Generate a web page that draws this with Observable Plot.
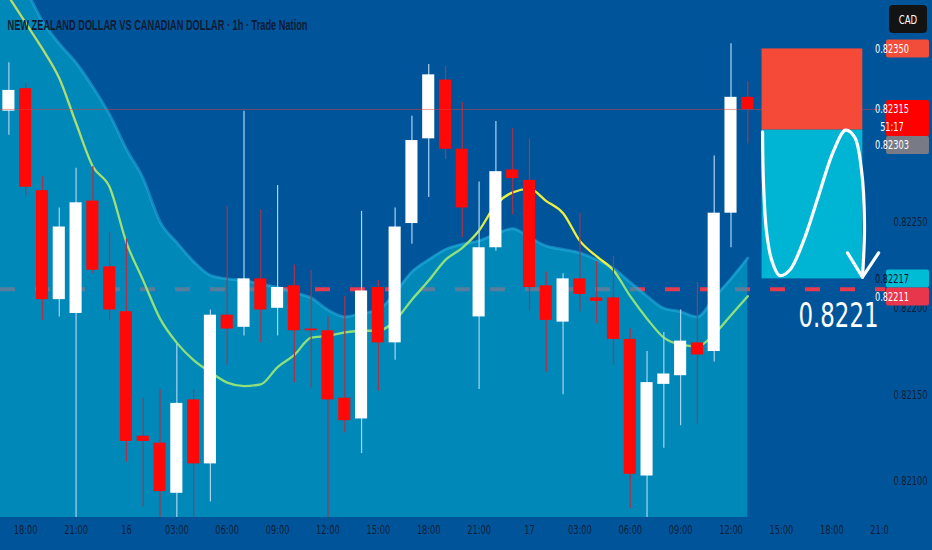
<!DOCTYPE html>
<html><head><meta charset="utf-8">
<script src="https://cdn.jsdelivr.net/npm/d3@7"></script>
<script src="https://cdn.jsdelivr.net/npm/@observablehq/plot@0.6"></script>
<style>html,body{margin:0;padding:0;background:#00559a;overflow:hidden}#chart svg{display:block}</style>
</head><body><div id="chart"></div>
<script>
// ---------- data ----------
const title = "NEW ZEALAND DOLLAR VS CANADIAN DOLLAR · 1h · Trade Nation";
const currency = "CAD";
const opens  = [0.82314,0.82327,0.82268,0.82205,0.82197,0.82262,0.82224,0.82198,0.82126,0.82122,0.82093,0.82147,0.82110,0.82196,0.82189,0.82217,0.82200,0.82213,0.82188,0.82187,0.82148,0.82136,0.82212,0.82180,0.82249,0.82298,0.82332,0.82292,0.82195,0.82235,0.82280,0.82274,0.82213,0.82192,0.82217,0.82206,0.82206,0.82182,0.82103,0.82156,0.82161,0.82180,0.82175,0.82255,0.82322];
const highs  = [0.82342,0.82330,0.82276,0.82258,0.82281,0.82282,0.82244,0.82240,0.82148,0.82153,0.82179,0.82153,0.82199,0.82259,0.82314,0.82257,0.82271,0.82225,0.82222,0.82195,0.82207,0.82256,0.82216,0.82258,0.82311,0.82341,0.82340,0.82319,0.82273,0.82308,0.82304,0.82298,0.82221,0.82220,0.82255,0.82227,0.82230,0.82188,0.82175,0.82186,0.82199,0.82215,0.82288,0.82353,0.82331];
const lows   = [0.82300,0.82265,0.82193,0.82195,0.82070,0.82220,0.82193,0.82111,0.82085,0.82075,0.82070,0.82072,0.82088,0.82167,0.82184,0.82180,0.82184,0.82157,0.82154,0.82070,0.82128,0.82116,0.82152,0.82170,0.82237,0.82264,0.82286,0.82241,0.82153,0.82233,0.82254,0.82198,0.82163,0.82150,0.82198,0.82191,0.82167,0.82084,0.82072,0.82119,0.82132,0.82133,0.82169,0.82235,0.82295];
const closes = [0.82326,0.82270,0.82205,0.82247,0.82261,0.82222,0.82199,0.82123,0.82123,0.82094,0.82145,0.82110,0.82196,0.82188,0.82217,0.82199,0.82212,0.82187,0.82187,0.82147,0.82135,0.82210,0.82180,0.82247,0.82297,0.82335,0.82292,0.82258,0.82235,0.82279,0.82275,0.82212,0.82193,0.82217,0.82208,0.82204,0.82182,0.82104,0.82157,0.82162,0.82181,0.82173,0.82255,0.82322,0.82315];
// upper edge of the shaded band
const band   = [0.82398,0.82384,0.82366,0.82353,0.82342,0.82328,0.82312,0.82292,0.82275,0.82250,0.82238,0.82227,0.82219,0.82217,0.82216,0.82214,0.82212,0.82209,0.82206,0.82199,0.82195,0.82197,0.82199,0.82209,0.82221,0.82228,0.82234,0.82237,0.82239,0.82243,0.82246,0.82241,0.82236,0.82234,0.82232,0.82228,0.82223,0.82215,0.82207,0.82200,0.82198,0.82195,0.82206,0.82217,0.82229];
// moving average
const ma     = [0.82380,0.82365,0.82350,0.82333,0.82307,0.82282,0.82270,0.82238,0.82216,0.82194,0.82180,0.82170,0.82163,0.82157,0.82155,0.82156,0.82166,0.82173,0.82183,0.82184,0.82186,0.82187,0.82187,0.82193,0.82205,0.82216,0.82228,0.82235,0.82245,0.82260,0.82267,0.82269,0.82262,0.82255,0.82239,0.82230,0.82222,0.82207,0.82194,0.82183,0.82179,0.82178,0.82185,0.82196,0.82207];
const tickIdx    = [1,4,7,10,13,16,19,22,25,28,31,34,37,40,43,46,49,52];
const tickLabels = ["18:00","21:00","16","03:00","06:00","09:00","12:00","15:00","18:00","21:00","17","03:00","06:00","09:00","12:00","15:00","18:00","21:00"];
const priceTicks = [0.82100,0.82150,0.82200,0.82250];
const lastPrice = 0.82315, countdown = "51:17";
const stopPrice = 0.82350, entryPrice = 0.82303, targetPrice = 0.82217, linePrice = 0.82211;
const toolStart = 44.85, toolEnd = 50.85, labelAt = 49.4;
const arrowX = [44.88,44.94,45.12,45.42,45.89,46.49,47.32,48.21,49.11,49.82,50.36,50.77,50.95,50.83];
const arrowY = [0.82302,0.82271,0.82244,0.82228,0.82219,0.82222,0.82239,0.82265,0.82291,0.82303,0.82299,0.82280,0.82248,0.82218];
const headX = [49.94,50.83,51.79];
const headY = [0.82232,0.82218,0.82232];

// ---------- layout ----------
const xDomain = [-0.5, 52.2];
const yDomain = [0.82079, 0.82378];
const FONT = "'Liberation Sans Narrow','DejaVu Sans Condensed','Liberation Sans',sans-serif";
const INK = "#0f1d38";

const bars = opens.map((o,i)=>({i, o, h: highs[i], l: lows[i], c: closes[i]}));
const up = bars.filter(d=>d.c>=d.o), down = bars.filter(d=>d.c<d.o);
const bandPts = band.map((v,k)=>({x: k===0 ? xDomain[0] : k, y: v}));
const maPts = ma.map((v,k)=>({x:k, y:v}));
const arrowPts = arrowX.map((x,k)=>({x, y: arrowY[k]}));
const headPts = headX.map((x,k)=>({x, y: headY[k]}));
const tool = {x1: toolStart, x2: toolEnd, stop: stopPrice, entry: entryPrice, target: targetPrice};

const plot = Plot.plot({
  width: 932, height: 550,
  marginLeft: 0, marginRight: 47, marginTop: 0, marginBottom: 33,
  style: {background: "#00559a", fontFamily: FONT, overflow: "visible"},
  x: {domain: xDomain, axis: null},
  y: {domain: yDomain, axis: null},
  marks: [
    Plot.ruleY([linePrice], {y: d=>d, stroke: "#e8394f", strokeWidth: 4, strokeDasharray: "15,20", clip: true}),
    Plot.areaY(bandPts, {x: "x", y1: yDomain[0], y2: "y", fill: "#00a8cd", fillOpacity: 0.62, curve: "monotone-x", clip: true}),
    Plot.line(bandPts, {x: "x", y: "y", stroke: "#28b4e4", strokeWidth: 3, strokeOpacity: 0.5, curve: "monotone-x", clip: true}),
    Plot.line(maPts, {x: "x", y: "y", stroke: "#8ee07a", strokeWidth: 2.3, curve: "monotone-x", clip: true, ariaDescription: "ma"}),
    Plot.ruleX(up, {x: "i", y1: "l", y2: "h", stroke: "#a9d3f2", strokeWidth: 1.2, clip: true}),
    Plot.ruleX(down, {x: "i", y1: "l", y2: "h", stroke: "#a8334a", strokeWidth: 1.2, clip: true}),
    Plot.rect(up, {x1: d=>d.i-0.36, x2: d=>d.i+0.36, y1: "o", y2: "c", fill: "#ffffff", clip: true}),
    Plot.rect(down, {x1: d=>d.i-0.36, x2: d=>d.i+0.36, y1: "o", y2: "c", fill: "#ff0808", clip: true}),
    Plot.ruleY([lastPrice], {y: d=>d, stroke: "#e0403c", strokeOpacity: 0.5, strokeWidth: 1}),
    Plot.rect([tool], {x1: "x1", x2: "x2", y1: "stop", y2: "entry", fill: "#f44a37"}),
    Plot.rect([tool], {x1: "x1", x2: "x2", y1: "entry", y2: "target", fill: "#00b5d3"}),
    Plot.line(arrowPts, {x: "x", y: "y", stroke: "white", strokeWidth: 3.2, curve: "catmull-rom", strokeLinecap: "round"}),
    Plot.line(headPts, {x: "x", y: "y", stroke: "white", strokeWidth: 3.2, strokeLinecap: "round", strokeLinejoin: "round"}),
    Plot.text([linePrice], {x: () => labelAt, y: d=>d, text: d=>d.toFixed(4), dy: 27, fill: "white", fontSize: 33, fontWeight: 500, ariaDescription: "biglabel"}),
    Plot.text(tickIdx, {x: d=>d, text: (d,k)=>tickLabels[k], frameAnchor: "bottom", dy: 16, fill: INK, fontSize: 12.5, ariaDescription: "xticks"}),
    Plot.text(priceTicks, {y: d=>d, text: d=>d.toFixed(5), frameAnchor: "right", textAnchor: "start", dx: 8, fill: INK, fontSize: 12.5, ariaDescription: "yticks"}),
    Plot.text([title], {frameAnchor: "top-left", textAnchor: "start", dx: 7, dy: 18, fill: "#0e1b35", fontSize: 15.5, fontWeight: 600, fontFamily: "'Liberation Sans',sans-serif", ariaDescription: "title"})
  ]
});
document.getElementById("chart").append(plot);

// ---------- post-processing ----------
const svg = d3.select(plot);
const xs = plot.scale("x"), ys = plot.scale("y");
const frameRight = xs.apply(xDomain[1]);
const defs = svg.append("defs");
const byDesc = name => svg.selectAll(`g[aria-description="${name}"]`);

// MA colour gradient
const grad = defs.append("linearGradient").attr("id","maGrad").attr("gradientUnits","userSpaceOnUse")
  .attr("x1",0).attr("x2",frameRight).attr("y1",0).attr("y2",0);
[[0,"#bcd96a"],[6,"#a4df72"],[10,"#8ee07a"],[27,"#8ee07a"],[28.5,"#eaee40"],[35.5,"#f2f23c"],[36.5,"#8ee07a"],[44,"#8ee07a"]]
  .forEach(([i,c])=>grad.append("stop").attr("offset", Math.max(0,xs.apply(i))/frameRight).attr("stop-color",c));
byDesc("ma").attr("stroke","url(#maGrad)").selectAll("path").attr("stroke","url(#maGrad)");

// clip x tick labels at the price scale
defs.append("clipPath").attr("id","xclip").append("rect").attr("x",0).attr("y",0).attr("width",frameRight+3).attr("height",550);
byDesc("xticks").attr("clip-path","url(#xclip)");

// condensed text
const probe = svg.append("text").attr("font-family",FONT).attr("font-size",12.5).text("0.82250");
const natural = probe.node().getComputedTextLength(); probe.remove();
const squeeze = Math.min(1, 34/natural);
function condense(sel){ sel.each(function(){ const w=this.getComputedTextLength(); if(w>0){ this.setAttribute("textLength",(w*squeeze).toFixed(2)); this.setAttribute("lengthAdjust","spacingAndGlyphs"); } }); }
function fitTo(sel, target){ sel.each(function(){ this.setAttribute("textLength", target); this.setAttribute("lengthAdjust","spacingAndGlyphs"); }); }
condense(byDesc("xticks").selectAll("text"));
condense(byDesc("yticks").selectAll("text"));
fitTo(byDesc("title").selectAll("text"), 300);
fitTo(byDesc("biglabel").selectAll("text"), 80);

// price badges
const fmt = p => p.toFixed(5);
const badges = [
  {lines:[fmt(stopPrice)], p: stopPrice, bg:"#f24c3b", fg:"#ffffff"},
  {lines:[fmt(lastPrice), countdown], p: lastPrice, bg:"#ff0000", fg:"#ffffff"},
  {lines:[fmt(entryPrice)], p: entryPrice, bg:"#787b86", fg:"#ffffff"},
  {lines:[fmt(targetPrice)], p: targetPrice, bg:"#00bcd4", fg:"#0b1630"},
  {lines:[fmt(linePrice)], p: linePrice, bg:"#e8374c", fg:"#ffffff"}
];
const bx = frameRight + 1, bw = 43, lh = 18;
let prevBottom = -Infinity;
const bg = svg.append("g").attr("font-family",FONT).attr("font-size",12.5);
badges.forEach(b=>{
  const top = Math.max(ys.apply(b.p) - lh/2, prevBottom);
  const h = lh*b.lines.length;
  prevBottom = top + h;
  bg.append("rect").attr("x",bx).attr("y",top).attr("width",bw).attr("height",h).attr("rx",2).attr("fill",b.bg);
  b.lines.forEach((t,k)=>{
    bg.append("text").attr("x",bx+6).attr("y",top+lh*k+lh/2).attr("dy","0.35em").attr("fill",b.fg).attr("font-weight",500).text(t);
  });
});
condense(bg.selectAll("text"));
// currency box
const cg = svg.append("g");
cg.append("rect").attr("x",889).attr("y",5).attr("width",38).attr("height",28).attr("rx",4).attr("fill","#131313");
cg.append("text").attr("x",908).attr("y",19).attr("dy","0.35em").attr("text-anchor","middle").attr("fill","#ffffff")
  .attr("font-family",FONT).attr("font-size",13).text(currency);
condense(cg.selectAll("text"));
</script></body></html>
